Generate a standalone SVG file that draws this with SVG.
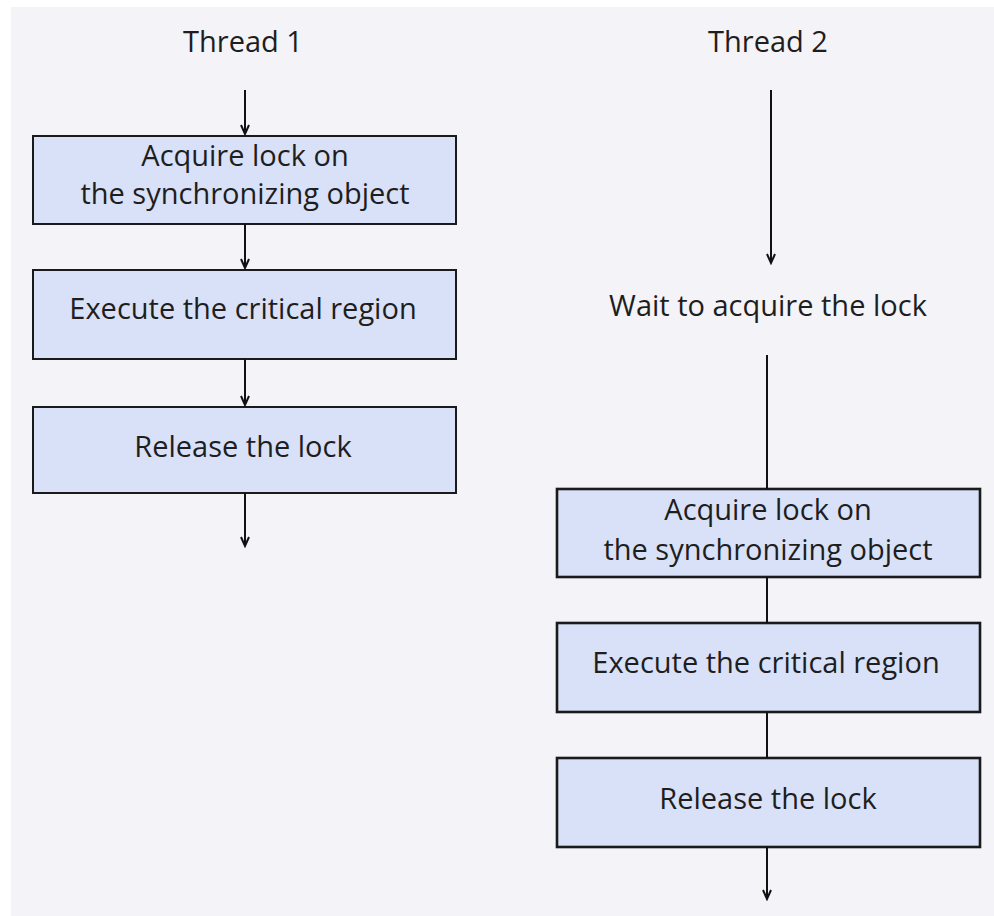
<svg xmlns="http://www.w3.org/2000/svg" width="994" height="916" viewBox="0 0 994 916">
<defs>
<style>
.bg{fill:#f3f3f8}
.box{fill:#d9e1f8;stroke:#1a1a1a;stroke-width:2}
.box2{fill:#d9e1f8;stroke:#1a1a1a;stroke-width:2.6}
.t{font-family:"Open Sans",sans-serif;font-size:29px;fill:#1e1e1e;text-anchor:middle}
.ln{stroke:#111;stroke-width:2;fill:none}
</style>
<marker id="ah" viewBox="0 0 12 10" refX="10" refY="5" markerWidth="12" markerHeight="10" markerUnits="userSpaceOnUse" orient="auto">
<path d="M1,1 L10,5 L1,9" fill="none" stroke="#111" stroke-width="2"/>
</marker>
</defs>
<rect x="0" y="0" width="994" height="916" fill="#ffffff"/>
<rect class="bg" x="11" y="7" width="983" height="909"/>
<g id="label-thread1"><text class="t" x="243" y="52">Thread 1</text></g>
<g id="label-thread2"><text class="t" x="768" y="52">Thread 2</text></g>
<g id="t1-acquire"><rect class="box" x="33" y="136" width="423" height="88"/><text class="t" x="245" y="166">Acquire lock on</text><text class="t" x="245" y="204">the synchronizing object</text></g>
<g id="t1-execute"><rect class="box" x="33" y="270" width="423" height="89"/><text class="t" x="243" y="319">Execute the critical region</text></g>
<g id="t1-release"><rect class="box" x="33" y="407" width="423" height="86"/><text class="t" x="243" y="457">Release the lock</text></g>
<g id="t2-wait"><text class="t" x="768" y="316">Wait to acquire the lock</text></g>
<g id="t2-acquire"><rect class="box2" x="557" y="489" width="423" height="88"/><text class="t" x="768" y="520">Acquire lock on</text><text class="t" x="768" y="560">the synchronizing object</text></g>
<g id="t2-execute"><rect class="box2" x="557" y="623" width="423" height="89"/><text class="t" x="766" y="673">Execute the critical region</text></g>
<g id="t2-release"><rect class="box2" x="557" y="758" width="423" height="89"/><text class="t" x="768" y="809">Release the lock</text></g>
<g id="connectors">
<line class="ln" x1="245" y1="90" x2="245" y2="134" marker-end="url(#ah)"/>
<line class="ln" x1="245" y1="224" x2="245" y2="268" marker-end="url(#ah)"/>
<line class="ln" x1="245" y1="359" x2="245" y2="405" marker-end="url(#ah)"/>
<line class="ln" x1="245" y1="493" x2="245" y2="546" marker-end="url(#ah)"/>
<line class="ln" x1="771" y1="90" x2="771" y2="263" marker-end="url(#ah)"/>
<line class="ln" x1="767" y1="355" x2="767" y2="489"/>
<line class="ln" x1="767" y1="577" x2="767" y2="623"/>
<line class="ln" x1="767" y1="712" x2="767" y2="758"/>
<line class="ln" x1="767" y1="847" x2="767" y2="899" marker-end="url(#ah)"/>
</g>
</svg>
